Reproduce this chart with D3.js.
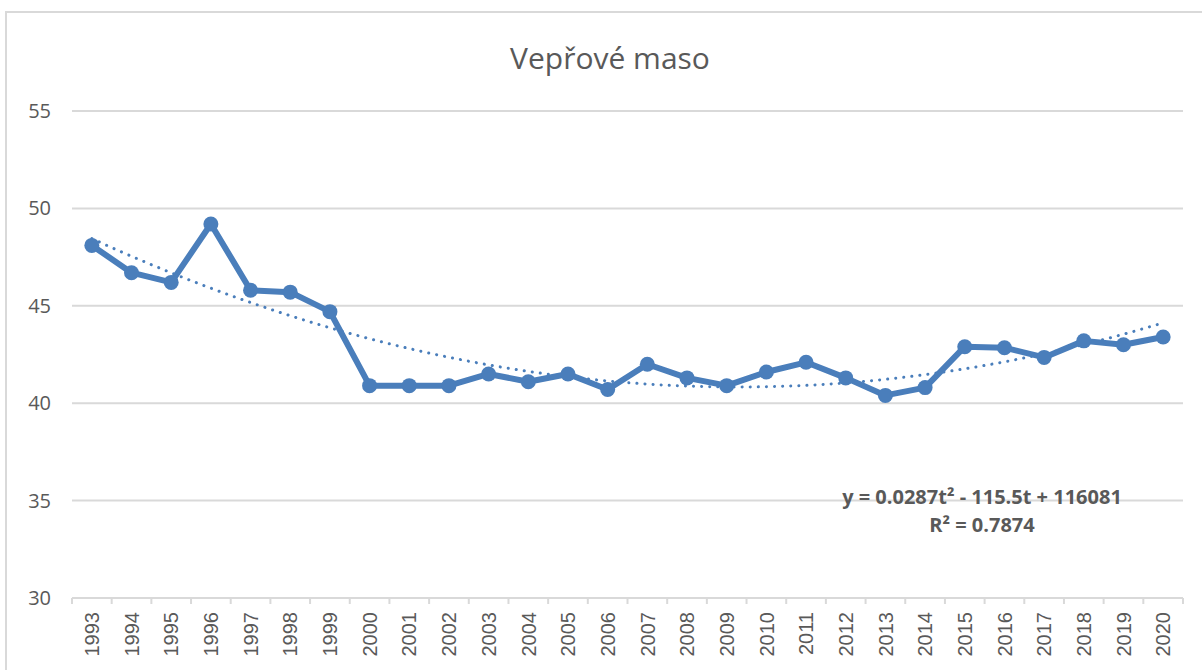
<!DOCTYPE html>
<html>
<head>
<meta charset="utf-8">
<script src="https://cdn.jsdelivr.net/npm/d3@7"></script>
<style>
  body { margin: 0; background: #fff; }
  svg { display: block; font-family: "Open Sans", "DejaVu Sans", sans-serif; }
</style>
</head>
<body>
<svg id="chart" width="1202" height="670"></svg>
<script>
var years = [1993, 1994, 1995, 1996, 1997, 1998, 1999, 2000, 2001, 2002, 2003, 2004, 2005, 2006,
             2007, 2008, 2009, 2010, 2011, 2012, 2013, 2014, 2015, 2016, 2017, 2018, 2019, 2020];
var values = [48.1, 46.7, 46.2, 49.2, 45.8, 45.7, 44.7, 40.9, 40.9, 40.9, 41.5, 41.1, 41.5, 40.7,
              42.0, 41.3, 40.9, 41.6, 42.1, 41.3, 40.4, 40.8, 42.9, 42.85, 42.35, 43.2, 43.0, 43.4];
var yTicks = [30, 35, 40, 45, 50, 55];
var title = "Vepřové maso";
var eqText = "y = 0.0287t² - 115.5t + 116081";
var r2Text = "R² = 0.7874";

var svg = d3.select('#chart');
var grey = '#595959';
var blue = '#4a7ebb';

// outer frame
svg.append('rect')
  .attr('x', 6).attr('y', 12)
  .attr('width', 1210).attr('height', 670)
  .attr('fill', 'none').attr('stroke', '#d9d9d9').attr('stroke-width', 2);

var x = d3.scaleBand().domain(years).range([72, 1183]);
var y = d3.scaleLinear().domain([30, 55]).range([598, 111]);

// grid
svg.append('g').selectAll('line').data(yTicks.slice(1)).join('line')
  .attr('x1', 72).attr('x2', 1183)
  .attr('y1', function(d) { return y(d); }).attr('y2', function(d) { return y(d); })
  .attr('stroke', '#d9d9d9').attr('stroke-width', 2);

// y labels
svg.append('g').selectAll('text').data(yTicks).join('text')
  .attr('x', 51).attr('y', function(d) { return y(d); })
  .attr('dy', '0.35em').attr('text-anchor', 'end')
  .attr('fill', grey).style('font-size', '20px')
  .text(function(d) { return d; });

// x axis
var xAxis = svg.append('g').attr('transform', 'translate(0,' + y(30) + ')');
xAxis.append('line').attr('x1', 72).attr('x2', 1183)
  .attr('stroke', '#d9d9d9').attr('stroke-width', 2);
xAxis.selectAll('line.tk').data(years.concat(['end'])).join('line').attr('class', 'tk')
  .attr('x1', function(d, i) { return 72 + i * x.step(); })
  .attr('x2', function(d, i) { return 72 + i * x.step(); })
  .attr('y1', 0).attr('y2', 6)
  .attr('stroke', '#d9d9d9').attr('stroke-width', 2);
xAxis.selectAll('text').data(years).join('text')
  .attr('transform', function(d) {
    return 'translate(' + (x(d) + x.bandwidth() / 2) + ',14) rotate(-90)';
  })
  .attr('text-anchor', 'end').attr('dy', '0.36em')
  .attr('fill', grey)
  .style('font-family', '"Liberation Sans", Arial, sans-serif')
  .style('font-size', '20px')
  .text(function(d) { return d; });

// quadratic least-squares trend from the data
function polyFit(xs, ys) {
  var m = d3.mean(xs);
  var s = [0, 0, 0, 0, 0], t = [0, 0, 0];
  xs.forEach(function(xv, i) {
    var u = xv - m, p = 1;
    for (var k = 0; k < 5; k++) { s[k] += p; if (k < 3) t[k] += p * ys[i]; p *= u; }
  });
  var A = [[s[0], s[1], s[2], t[0]], [s[1], s[2], s[3], t[1]], [s[2], s[3], s[4], t[2]]];
  for (var c = 0; c < 3; c++) {
    for (var r = c + 1; r < 3; r++) {
      var f = A[r][c] / A[c][c];
      for (var k = c; k < 4; k++) A[r][k] -= f * A[c][k];
    }
  }
  var b = [0, 0, 0];
  for (var r = 2; r >= 0; r--) {
    var sum = A[r][3];
    for (var k = r + 1; k < 3; k++) sum -= A[r][k] * b[k];
    b[r] = sum / A[r][r];
  }
  return function(xv) { var u = xv - m; return b[0] + b[1] * u + b[2] * u * u; };
}
var trend = polyFit(years, values);
var trendPts = d3.range(years[0], years[years.length - 1] + 0.001, 0.25);

var cx = function(d) { return x(d) + x.bandwidth() / 2; };
var tx = d3.scaleLinear().domain([years[0], years[years.length - 1]])
  .range([cx(years[0]), cx(years[years.length - 1])]);

svg.append('path')
  .datum(trendPts)
  .attr('d', d3.line().x(function(d) { return tx(d); }).y(function(d) { return y(trend(d)); }))
  .attr('fill', 'none').attr('stroke', blue).attr('stroke-width', 3)
  .attr('stroke-linecap', 'round').attr('stroke-dasharray', '0.1 8');

// series
svg.append('path')
  .datum(values)
  .attr('d', d3.line().x(function(d, i) { return cx(years[i]); }).y(function(d) { return y(d); }))
  .attr('fill', 'none').attr('stroke', blue).attr('stroke-width', 6)
  .attr('stroke-linejoin', 'round');

svg.append('g').selectAll('circle').data(values).join('circle')
  .attr('cx', function(d, i) { return cx(years[i]); })
  .attr('cy', function(d) { return y(d); })
  .attr('r', 7.5).attr('fill', blue);

// title
svg.append('text')
  .attr('x', 610).attr('y', 58).attr('dy', '0.35em')
  .attr('text-anchor', 'middle').attr('fill', grey)
  .style('font-size', '30px').text(title);

// equation
var eq = svg.append('g').attr('fill', grey).style('font-size', '20px').style('font-weight', 'bold')
  .attr('text-anchor', 'middle');
eq.append('text').attr('x', 982).attr('y', 497).attr('dy', '0.35em').text(eqText);
eq.append('text').attr('x', 982).attr('y', 525).attr('dy', '0.35em').text(r2Text);
</script>
</body>
</html>
